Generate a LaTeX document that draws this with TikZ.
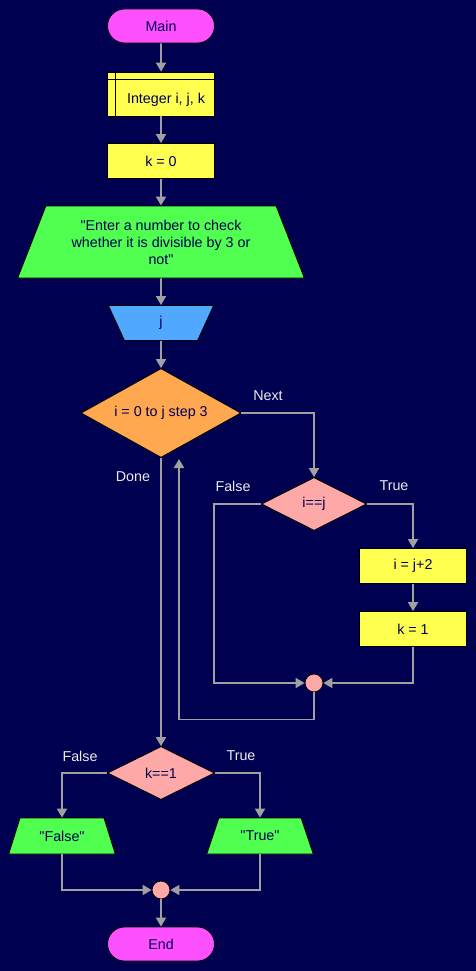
\documentclass[tikz,border=0pt]{standalone}
\usepackage{fontspec}
\setmainfont{Liberation Sans}
\usetikzlibrary{shapes.geometric,shapes.misc,arrows.meta}
\definecolor{bgblue}{HTML}{000050}
\definecolor{termpink}{HTML}{FF50FF}
\definecolor{boxyellow}{HTML}{FFFF50}
\definecolor{iogreen}{HTML}{50FF50}
\definecolor{inblue}{HTML}{50A8FF}
\definecolor{looporange}{HTML}{FFA850}
\definecolor{testpink}{HTML}{FFA8A8}
\definecolor{flowgray}{HTML}{A0A0A0}
\newcommand{\dq}{\textquotedbl}
\begin{document}
\begin{tikzpicture}
          [x=1pt,y=-1pt,font=\fontsize{14.3}{17}\selectfont,
           every node/.style={draw=black, line width=0.8pt, text=bgblue, inner sep=0pt},
           term/.style={rounded rectangle, fill=termpink, minimum width=107pt, minimum height=34pt},
           proc/.style={rectangle, fill=boxyellow, minimum width=107pt, minimum height=35pt},
           outp/.style={trapezium, trapezium stretches=true, fill=iogreen, minimum height=36pt},
           test/.style={diamond, aspect=2, minimum height=53pt},
           joint/.style={circle, fill=testpink, minimum size=18pt},
           lbl/.style={draw=none, text=white!92!black},
           flow/.style={draw=flowgray, line width=1.8pt, -{Triangle[length=9pt,width=10pt]}}]
        \fill[bgblue] (0,0) rectangle (476,971);
        \useasboundingbox (0,0) rectangle (476,971);

        \node[term] (main) at (161,26) {Main};
        \node[proc, minimum height=44pt, text height=21pt, text depth=2pt,
              path picture={
                \draw[line width=1pt] ([xshift=8pt]path picture bounding box.north west) -- ([xshift=8pt]path picture bounding box.south west);
                \draw[line width=1pt] ([yshift=-8pt]path picture bounding box.north west) -- ([yshift=-8pt]path picture bounding box.north east);}]
              (decl) at (161,94) {\hspace*{10pt}Integer i, j, k};
        \node[proc] (kzero) at (161,161) {k = 0};
        \node[outp, trapezium angle=63.8, minimum width=287pt, minimum height=72pt, align=center]
              (prompt) at (161,242) {\dq Enter a number to check\\ whether it is divisible by 3 or\\ not\dq};
        \node[trapezium, trapezium angle=65.4, shape border rotate=180, fill=inblue,
              inner xsep=35pt, inner ysep=11pt, text height=10pt, text depth=3pt] (inj) at (161,323) {j};
        \node[test, fill=looporange, minimum width=160pt, minimum height=89pt] (loop) at (161,413) {i = 0 to j step 3};
        \node[test, fill=testpink, minimum width=105pt] (eq) at (314,504) {i==j};
        \node[proc] (iset) at (413,566) {i = j+2};
        \node[proc] (kset) at (413,629) {k = 1};
        \node[joint] (join1) at (314,683) {};
        \coordinate (back) at (179,459);
        \node[test, fill=testpink, minimum width=107pt] (check) at (161,773) {k==1};
        \node[outp, trapezium angle=60, minimum width=107pt] (outf) at (62,836) {\dq False\dq};
        \node[outp, trapezium angle=60, minimum width=107pt] (outt) at (260,836) {\dq True\dq};
        \node[joint] (join2) at (161,890) {};
        \node[term] (endn) at (161,944) {End};

        \node[lbl] (lnext) at (268,396) {Next};
        \node[lbl] (ldone) at (133,477) {Done};
        \node[lbl] (lfalse1) at (233,486) {False};
        \node[lbl] (ltrue1) at (394,486) {True};
        \node[lbl] (lfalse2) at (80,756) {False};
        \node[lbl] (ltrue2) at (241,756) {True};

        \foreach \from/\to in {main/decl, decl/kzero, kzero/prompt, prompt/inj, inj/loop,
                               loop/check, iset/kset, join2/endn}
          \draw[flow] (\from) -- (\to);
        \draw[flow] (loop.east) -| (eq.north);
        \draw[flow] (eq.east) -| (iset.north);
        \draw[flow] (eq.west) -- ++(-47,0) |- (join1.west);
        \draw[flow] (kset.south) |- (join1.east);
        \draw[flow] (join1.south) -- ++(0,27) -| (back);
        \draw[flow] (check.west) -| (outf.north);
        \draw[flow] (check.east) -| (outt.north);
        \draw[flow] (outf.south) |- (join2.west);
        \draw[flow] (outt.south) |- (join2.east);
      \end{tikzpicture}
\end{document}
